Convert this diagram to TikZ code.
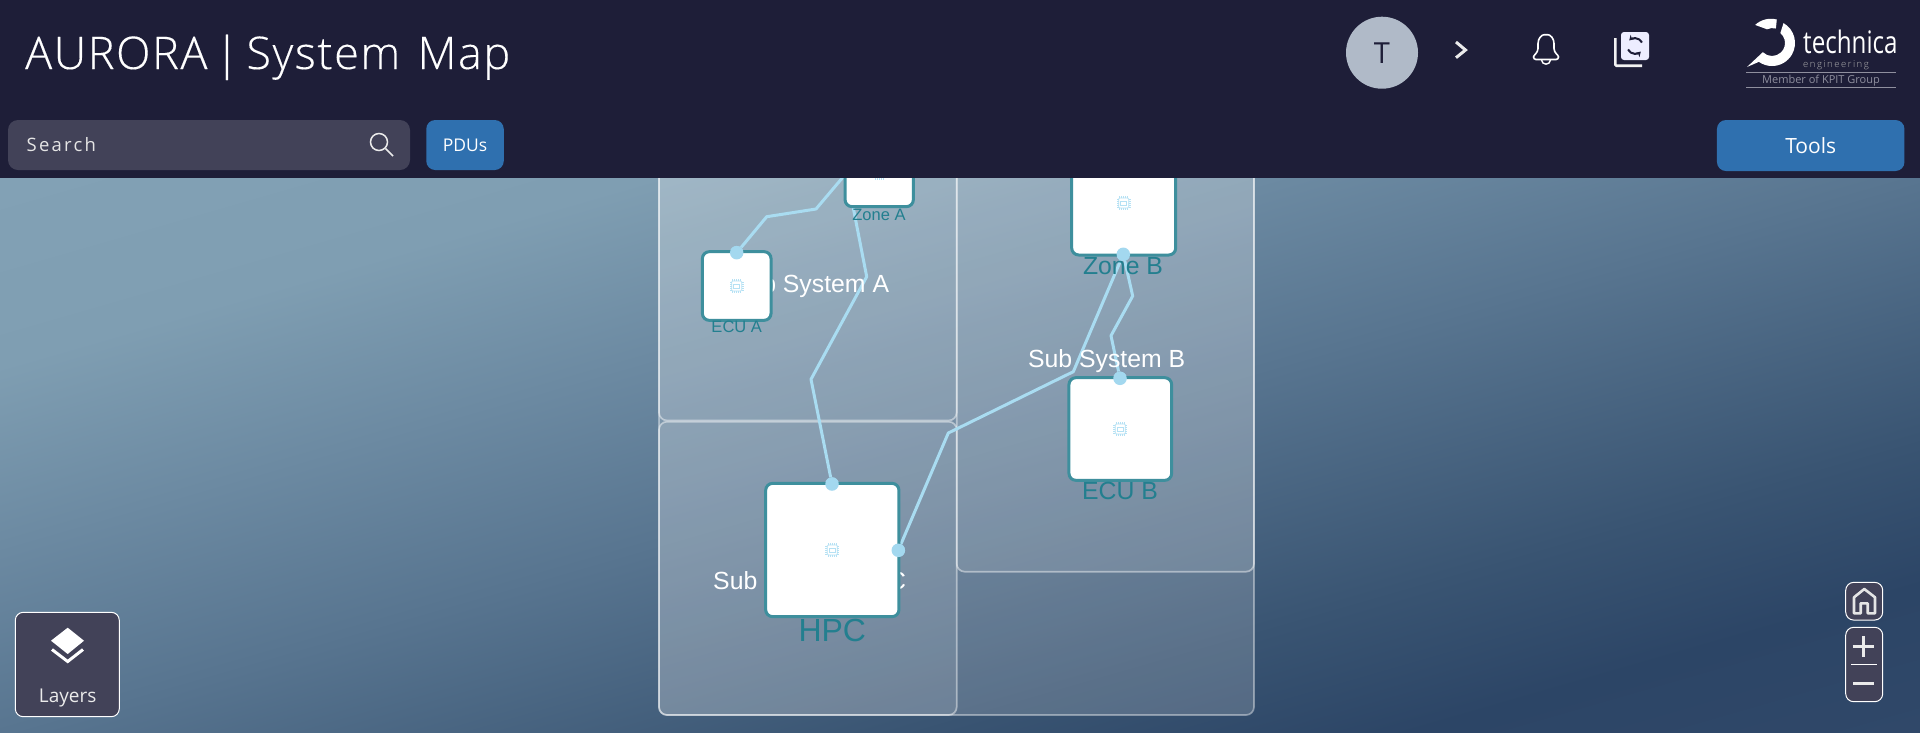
\documentclass[tikz,border=0pt]{standalone}
\usepackage{fontspec}
\usepackage{graphicx}
\setmainfont{Liberation Sans}
\newfontfamily\uifont{Open Sans}
\newfontfamily\uilight{Open Sans Light}
\newfontfamily\uititle{Open Sans Light}[LetterSpace=3.6, WordSpace=.55, FakeBold=.25]
\newfontfamily\uispaced{Open Sans}[LetterSpace=12]
\usetikzlibrary{arrows.meta}
\newcommand{\fsize}[1]{\fontsize{#1}{#1}\selectfont}
\definecolor{headerdark}{HTML}{1E1E38}
\definecolor{searchgrey}{HTML}{424258}
\definecolor{btnblue}{HTML}{2F70AF}
\definecolor{devteal}{HTML}{3E8F9D}
\definecolor{devtext}{HTML}{237F8F}
\definecolor{wireblue}{HTML}{A9DCF1}
\definecolor{portblue}{HTML}{A3D8EF}
\definecolor{chipblue}{HTML}{B5E1F4}
\definecolor{avatargrey}{HTML}{B0BAC8}
\definecolor{logogrey}{HTML}{8F8F9E}
\definecolor{mapa}{HTML}{82A1B5}
\definecolor{mapb}{HTML}{7F9EB2}
\definecolor{mapc}{HTML}{6C8AA2}
\definecolor{mapd}{HTML}{587590}
\definecolor{mape}{HTML}{395472}
\definecolor{mapf}{HTML}{2C4566}
\definecolor{mapg}{HTML}{304869}
\pgfdeclarehorizontalshading{mapbg}{100bp}{
    color(0bp)=(mapa);
    color(36.7bp)=(mapa);
    color(41.2bp)=(mapb);
    color(45.5bp)=(mapc);
    color(50bp)=(mapd);
    color(56.4bp)=(mape);
    color(59.8bp)=(mapf);
    color(63.3bp)=(mapg);
    color(100bp)=(mapg)}
\tikzset{
    groupbox/.style={fill=white, fill opacity=.115, draw=white, draw opacity=.45, line width=1.7pt, rounded corners=8pt},
    outerbox/.style={fill=white, fill opacity=.17, draw=white, draw opacity=.4, line width=1.7pt, rounded corners=8pt},
    device/.style={draw=devteal, line width=3pt, fill=white, rounded corners=7pt, inner sep=0pt},
    devlabel/.style={text=devtext, inner sep=0pt},
    grouplabel/.style={text=white, inner sep=0pt, font=\fsize{24.8}},
    wire/.style={draw=wireblue, line width=3pt, line join=round},
    port/.style={circle, fill=portblue, inner sep=0pt, minimum size=13.5pt},
    uibox/.style={draw=white, line width=1pt, fill=searchgrey, rounded corners=8pt, inner sep=0pt},
    btn/.style={fill=btnblue, rounded corners=9pt, inner sep=0pt, text=white},
    chip/.pic={
        \draw[chipblue, line width=.7pt, rounded corners=1pt] (-5,-5) rectangle (5,5);
        \draw[chipblue, line width=.6pt] (-3,-2) rectangle (3,2.5);
        \foreach \p in {-4,-2,0,2,4} {
            \draw[chipblue, line width=.5pt] (\p,-5) -- (\p,-7);
            \draw[chipblue, line width=.5pt] (\p,5) -- (\p,7);
            \draw[chipblue, line width=.5pt] (-5,\p) -- (-7,\p);
            \draw[chipblue, line width=.5pt] (5,\p) -- (7,\p);
        }
    }
}
\begin{document}
\begin{tikzpicture}[x=1pt, y=-1pt]
    \useasboundingbox (0,0) rectangle (1920,732);
    \begin{scope}
        \clip (0,178) rectangle (1920,732);
        \path[shading=mapbg, shading angle=-73.9] (-40,-545) rectangle (1960,1455);
    \end{scope}

    \path[outerbox] (659,100) rectangle (1254,715);
    \path[groupbox] (659,100) rectangle (956.7,420.5);
    \path[groupbox] (659,421.7) rectangle (956.7,715);
    \path[groupbox] (956.7,100) rectangle (1254,571.7);

    \node[port] (ecuAport) at (736.7,252.7) {};
    \node[port] (hpcTop) at (832,484) {};
    \node[port] (hpcRight) at (898.3,550.3) {};
    \node[port] (zoneBport) at (1123.3,254.3) {};
    \node[port] (ecuBport) at (1120,378.3) {};
    \coordinate (zoneAtop) at (860,157);
    \coordinate (zoneAcore) at (849,186);

    \draw[wire] (ecuAport) -- (766.7,216.7) -- (816,209) -- (zoneAtop);
    \draw[wire] (zoneAcore) -- (866.7,276.7) -- (811,379.3) -- (hpcTop);
    \draw[wire] (zoneBport) -- (1132.7,296) -- (1111,335.7) -- (ecuBport);
    \draw[wire] (hpcRight) -- (948.3,433) -- (1073.3,371.7) -- (zoneBport);

    \node[grouplabel] (subA) at (810.5,286) {Sub System A};
    \node[grouplabel] (subB) at (1106.7,361.5) {Sub System B};
    \node[grouplabel] (subC) at (809.7,583) {Sub System HPC};

    \node[device, minimum size=68.3pt] (zoneA) at (879.2,172.5) {};
    \node[device, minimum size=68.7pt] (ecuA) at (736.7,286) {};
    \node[device, minimum size=104pt] (zoneB) at (1123.7,203) {};
    \node[device, minimum size=102.7pt] (ecuB) at (1120.3,429) {};
    \node[device, minimum size=133.3pt] (hpc) at (832.3,550) {};

    \node[devlabel, font=\fsize{16.5}] (zoneAtext) at (879,215) {Zone A};
    \node[devlabel, font=\fsize{16.5}] (ecuAtext) at (736.7,326.7) {ECU A};
    \node[devlabel, font=\fsize{24.8}] (zoneBtext) at (1123,265.7) {Zone B};
    \node[devlabel, font=\fsize{24.8}] (ecuBtext) at (1120,490.7) {ECU B};
    \node[devlabel, font=\fsize{32}] (hpctext) at (832.3,630.7) {HPC};

    \node[port] at (ecuAport) {};
    \node[port] at (hpcTop) {};
    \node[port] at (hpcRight) {};
    \node[port] at (zoneBport) {};
    \node[port] at (ecuBport) {};

    \pic at (zoneA.center) {chip};
    \pic at (ecuA.center) {chip};
    \pic at (zoneB.center) {chip};
    \pic at (ecuB.center) {chip};
    \pic at (hpc.center) {chip};

    \fill[headerdark] (0,0) rectangle (1920,178);
    \node[anchor=base west, inner sep=0pt, text=white, font=\uititle\fsize{45}] (title) at (25,69) {AURORA | System\hspace{10pt} Map};

    \path[fill=searchgrey, rounded corners=10pt] (8,120) rectangle (410,170);
    \node[anchor=west, inner sep=0pt, text=white!90!black, font=\uispaced\fsize{18.5}] (searchtext) at (26.5,145) {Search};
    \node[circle, draw=white!92!black, line width=1.5pt, minimum size=17pt, inner sep=0pt] (lens) at (379,142) {};
    \coordinate (lensend) at (393,156);
    \draw[white!92!black, line width=1.7pt] (lens) -- (lensend);

    \node[btn, minimum width=77.5pt, minimum height=50pt, font=\uifont\fsize{17.5}] (pdus) at (465,145) {PDUs};
    \node[btn, minimum width=187.5pt, minimum height=51pt, font=\uifont\fsize{21}] (tools) at (1810.7,145.5) {Tools};

    \node[circle, fill=avatargrey, minimum size=72pt, inner sep=0pt, text=headerdark, font=\uifont\fsize{29}] (avatar) at (1382,52.7) {T};
    \draw[white!92!black, line width=3pt] (1456,42) -- (1465.5,50) -- (1456,57.7);

    \draw[white, line width=1.6pt, rounded corners=2.5pt] (1540.7,59.5) -- (1533.5,59.5) .. controls (1533.5,55) and (1538,53) .. (1538,46) .. controls (1538,38) and (1542,35) .. (1546,34.5) .. controls (1550,35) and (1554,38) .. (1554,46) .. controls (1554,53) and (1558.5,55) .. (1558.5,59.5) -- cycle;
    \draw[white, line width=1.4pt] (1541.5,60) .. controls (1542,65.5) and (1550,65.5) .. (1550.5,60);

    \draw[white!95!black, line width=2.6pt, rounded corners=1pt] (1615.3,38) -- (1615.3,65.7) -- (1642,65.7);
    \fill[white!93!blue, rounded corners=3pt] (1621,32) rectangle (1649,60);
    \begin{scope}[shift={(1635,46)}, y=1pt]
        \draw[headerdark, line width=2pt, -{Stealth[length=5pt,width=6pt]}] (7,3.5) arc[start angle=27, end angle=135, radius=8];
        \draw[headerdark, line width=2pt, -{Stealth[length=5pt,width=6pt]}] (-7,-3.5) arc[start angle=207, end angle=315, radius=8];
    \end{scope}

    \begin{scope}[shift={(1772,43)}, y=1pt]
        \fill[white] (133:24.7) arc[start angle=133, end angle=75, radius=23] -- (75:15) arc[start angle=75, end angle=115, radius=13] -- cycle;
        \fill[white] (60:23) arc[start angle=60, end angle=-125, radius=23] -- (-25,-24) -- (-135:13) arc[start angle=-135, end angle=50, radius=13] -- cycle;
    \end{scope}
    \node[inner sep=0pt, text=white, anchor=base west, font=\uifont\fsize{31}] (technica) at (1803,53) {\scalebox{.78}[1]{technica}};
    \node[inner sep=0pt, text=white!70!black, anchor=base west, font=\uilight\fsize{9.5}] (engineering) at (1803,67) {\addfontfeature{LetterSpace=16}engineering};
    \coordinate (rulea) at (1746,72.7);
    \coordinate (ruleb) at (1896,72.7);
    \coordinate (rulec) at (1746,87);
    \coordinate (ruled) at (1896,87);
    \draw[logogrey, line width=1pt] (rulea) -- (ruleb);
    \draw[logogrey, line width=1pt] (rulec) -- (ruled);
    \node[inner sep=0pt, text=logogrey, font=\uifont\fsize{11}] (member) at (1821,81) {Member of KPIT Group};

    \node[uibox, minimum width=104pt, minimum height=104.4pt] (layers) at (67.3,664.5) {};
    \fill[white] (67.7,627.7) -- (84,640.7) -- (67.7,654) -- (51,640.7) -- cycle;
    \draw[white, line width=3pt] (52,649.5) -- (67.7,661.5) -- (83,649.5);
    \node[inner sep=0pt, text=white!92!black, font=\uifont\fsize{19}] (layerstext) at (67.7,697.5) {Layers};

    \node[uibox, minimum width=37pt, minimum height=37.7pt] (home) at (1864.2,601.2) {};
    \draw[white!90!black, line width=2.6pt, line join=round] (1854,613.3) -- (1854,597.3) -- (1864.3,589) -- (1875,597.3) -- (1875,613.3) -- (1867.7,613.3) -- (1867.7,603.3) -- (1860.7,603.3) -- (1860.7,613.3) -- cycle;
    \node[uibox, minimum width=37pt, minimum height=74.4pt] (zoom) at (1864.2,664.5) {};
    \draw[white!92!black, line width=2.6pt] (1852.6,646.7) -- (1874,646.7);
    \draw[white!92!black, line width=2.6pt] (1863.3,636) -- (1863.3,657.4);
    \draw[white, line width=1pt] (1851,664.3) -- (1877,664.3);
    \draw[white!92!black, line width=2.6pt] (1853.3,683.3) -- (1873.5,683.3);
\end{tikzpicture}
\end{document}
